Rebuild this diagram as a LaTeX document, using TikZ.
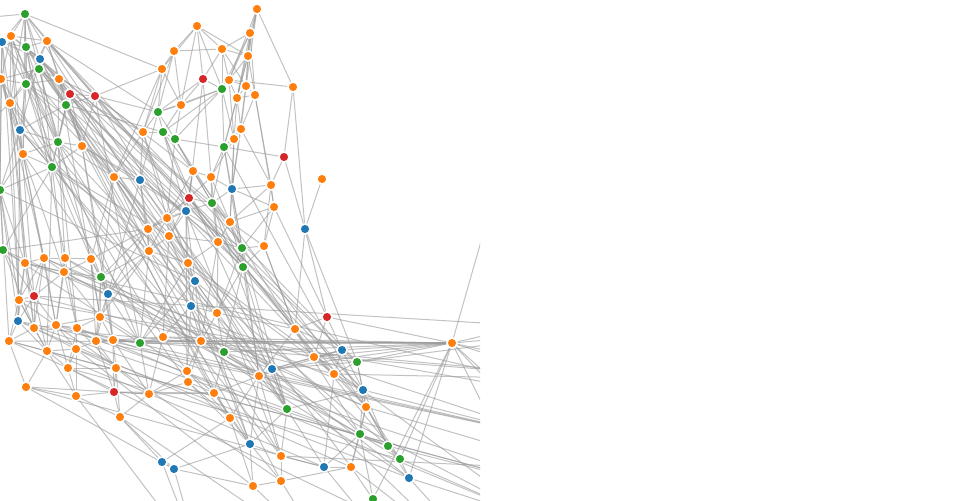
\documentclass[tikz,border=0pt]{standalone}
\usetikzlibrary{backgrounds}
\definecolor{cb}{HTML}{1F77B4}
\definecolor{co}{HTML}{FF7F0E}
\definecolor{cg}{HTML}{2CA02C}
\definecolor{cr}{HTML}{D62728}
\definecolor{linkgray}{HTML}{999999}
\tikzset{
  vtx/.style={circle, draw=white, line width=1.1pt, minimum size=7.5pt, inner sep=0pt},
  link/.style={draw=linkgray, draw opacity=0.6, line width=0.75pt}
}
\begin{document}
\begin{tikzpicture}[x=0.75pt,y=-0.75pt]
\useasboundingbox (0,0) rectangle (960,500);
\begin{scope}
\clip (0,0) rectangle (480,500);

% nodes
\foreach \n/\x/\y/\c in {
 t1/25/14/cg, t2/11/36/co, t3/2/42/cb, t4/26/47/cg, t5/47/41/co, t6/40/59/cb,
 t7/39/69/cg, t8/1/79/co, t9/26/84/cg, t10/59/79/co, t11/70/94/cr, t12/95/96/cr,
 t13/66/105/cg, t14/10/103/co, t15/20/130/cb, t16/23/154/co, t17/58/142/cg,
 t18/82/146/co, t19/52/167/cg, t20/0/190/cg, t21/3/250/cg,
 m1/257/9/co, m2/197/26/co, m3/250/33/co, m4/174/51/co, m5/222/49/co, m6/248/56/co,
 m7/162/69/co, m8/203/79/cr, m9/229/80/co, m10/222/89/cg, m11/246/86/co,
 m12/255/95/co, m13/237/98/co, m14/293/87/co, m15/181/105/co, m16/158/112/cg,
 m17/163/132/cg, m18/175/139/cg, m19/143/132/co, m20/241/129/co, m21/234/139/co,
 m22/224/147/cg, m23/284/157/cr,
 c1/193/171/co, c2/211/177/co, c3/232/189/cb, c4/271/185/co, c5/322/179/co,
 c6/189/198/cr, c7/212/203/cg, c8/186/211/cb, c9/274/207/co, c10/167/218/co,
 c11/230/222/co, c12/305/229/cb, c13/169/236/co, c14/218/242/co, c15/242/248/cg,
 c16/264/246/co, c17/188/263/co, c18/243/267/cg, c19/195/281/cb, c20/191/306/cb,
 c21/217/313/co, c22/114/177/co, c23/140/180/cb, c24/148/229/co, c25/149/251/co,
 l1/25/263/co, l2/44/258/co, l3/65/258/co, l4/91/259/co, l5/64/272/co, l6/101/277/cg,
 l7/108/294/cb, l8/34/296/cr, l9/19/300/co, l10/100/317/co, l11/18/321/cb,
 l12/34/328/co, l13/56/325/co, l14/77/328/co, l15/9/341/co, l16/47/351/co,
 l17/76/349/co, l18/96/341/co, l19/113/340/co, l20/140/343/cg, l21/163/337/co,
 l22/68/368/co, l23/116/368/co, l24/26/387/co, l25/76/396/co, l26/114/392/cr,
 l27/149/394/co, l28/120/417/co,
 b1/201/341/co, b2/224/352/cg, b3/187/371/co, b4/188/382/co, b5/214/393/co,
 b6/259/376/co, b7/272/369/cb, b8/230/418/co, b9/287/409/cg, b10/250/444/cb,
 b11/162/462/cb, b12/174/469/cb, b13/281/456/co, b14/253/486/co, b15/281/481/co,
 b16/295/329/co, b17/327/317/cr, b18/314/357/co,
 r1/452/343/co, r2/342/350/cb, r3/357/362/cg, r4/334/374/co, r5/363/390/cb,
 r6/366/407/co, r7/360/434/cg, r8/388/446/cg, r9/400/459/cg, r10/324/467/cb,
 r11/351/467/co, r12/409/478/cb, r13/373/499/cg}
{
\node[vtx, fill=\c] (\n) at (\x,\y) {};
}

% nodes outside the frame
\foreach \n/\x/\y in {x1/-40/20, x2/-30/140, x3/-50/300, x4/500/175, x5/600/330,
 x6/620/380, x7/560/440, x8/540/520, x9/470/560, x10/400/560, x11/330/560,
 x12/200/560, x13/600/500, x14/700/420, x15/520/600, x16/640/300, x17/580/470}
{
\coordinate (\n) at (\x,\y);
}

\begin{pgfonlayer}{background}
\clip (0,0) rectangle (480,500);
\foreach \a/\nb in {
 t1/{t2,t3,t4,t5,t6,t7,t9,x1,t14,t16,m7,r6,c19},
 t2/{t3,t4,t5,t8,t9,t14,t15,l1,t17,c7,l20},
 t3/{t4,t6,t8,t9,t14,t20,x1,l9,c17},
 t4/{t5,t6,t7,t9,t10,t13,t17,t19,l3,b9,c11},
 t5/{t6,t10,t12,m16,t9,t18,c23,r3,b16},
 t6/{t7,t9,t10,t11,t14,t15,l5,c10,b5,b1},
 t7/{t9,t10,t11,t13,t17,t8,l4,b6,r2},
 t8/{t9,t14,t15,x2,t20,l2,t16,l21},
 t9/{t10,t13,t14,t15,t16,t17,t19,r7,l6,c14},
 t10/{t11,t12,t13,t17,t18,c6,l10,b7},
 t11/{t12,t13,t17,t18,m19,c8,b2,r4},
 t12/{t13,m7,m16,m19,t18,c1,l20,r5,b9},
 t13/{t17,t18,t19,t15,m17,c24,b10,c18},
 t14/{t15,t16,t19,l1,l9,x2,l12,c20},
 t15/{t16,t17,t19,t20,l11,l8,c25,b1},
 t16/{t19,t20,l2,l5,l13,t17,b4},
 t17/{t18,t19,l3,l14,c22,b5,c21},
 t18/{t19,c22,c23,l7,l19,b8,c15},
 t19/{t20,t21,l4,l16,c13,r4,b13},
 t20/{t21,l9,l1,x3,l15,l11,c19},
 t21/{l1,l8,l12,x3,c24,b3,r6},
 m1/{m3,m6,m9,m14,m13,m11},
 m2/{m4,m7,m8,m10,m6,m15,m5},
 m3/{m5,m6,m9,m10,m12,m13,m11},
 m4/{m5,m7,m19,m16,m15},
 m5/{m9,m10,m6,m8,m11},
 m6/{m9,m11,m12,m13,m22},
 m7/{m15,m16,m19,c22},
 m8/{m10,m16,c2,m15,c6},
 m9/{m10,m14,m13,m11,m21},
 m10/{m15,m17,m16,m18,m22,m21},
 m11/{m12,m13,m20,c3},
 m12/{m13,m20,c9,c4},
 m13/{m20,m21,m22},
 m14/{m23,c12},
 m15/{m16,m17,m18},
 m16/{m17,m18,m19,c23},
 m17/{m18,m19,c1,c6,c8,b9},
 m18/{m22,c1,c7,c10,r7},
 m19/{c22,c23,c10,b10},
 m20/{m21,m22,c3,c4},
 m21/{m22,c2,c3,c11},
 m22/{m23,c2,c7,c15,c18,r8},
 m23/{c12,c4},
 c1/{c2,c6,c7,c8,c10,r6},
 c2/{c3,c6,c7,c11,c14},
 c3/{c4,c7,c9,c11,c15},
 c4/{c9,c16,c11},
 c5/{c12},
 c6/{c7,c8,c10,c13,c14,c24,b16,r2,r9},
 c7/{c8,c11,c14,c15,c18,b9},
 c8/{c10,c13,c17,c19,c24,b3,b13},
 c9/{c11,c16,b17,c15},
 c10/{c13,c24,c25,c17,r11},
 c11/{c14,c15,c16,c18},
 c12/{b17,b16,r3},
 c13/{c17,c25,c14,l21,b10},
 c14/{c15,c17,c18,c21,b1},
 c15/{c16,c18,c21,b6,b9},
 c16/{c18,b16},
 c17/{c19,c20,c25,l20,x8},
 c18/{c21,b2,b6,b7,r5},
 c19/{c20,c21,l20,b1,r8},
 c20/{c21,l21,b1,b3,r12},
 c21/{b1,b2,b16},
 c22/{c23,c24,c25,l4,l6,b13},
 c23/{c24,c25,c8,l7,r10},
 c24/{c25,l4,l6,l7,b15},
 c25/{l6,l7,l10,l20,x9},
 l1/{l2,l8,l9,l5,l11,l12,x7,x14},
 l2/{l3,l5,l8,l9,l12,l13,r6,r5},
 l3/{l4,l5,l6,l13,l14,r12},
 l4/{l5,l6,l7,l10,l18},
 l5/{l6,l8,l13,l14,l10,x8,r7},
 l6/{l7,l10,l19,l18,r9},
 l7/{l10,l19,l20,l18},
 l8/{l9,l11,l12,l13,l16,r4,x5},
 l9/{l11,l12,l15,l16,b15,x14},
 l10/{l14,l18,l19,l20,l13},
 l11/{l12,l15,l16,r8,x7},
 l12/{l13,l16,l17,l15,r11,x6},
 l13/{l14,l17,l16,l22,x7,r8},
 l14/{l17,l18,l22,l23,x13,x8},
 l15/{l16,l24,l22,r1,x13},
 l16/{l17,l22,l25,l24,r10,x13},
 l17/{l18,l22,l23,l25,b14,r12},
 l18/{l19,l23,l26,x7,r1},
 l19/{l20,l21,l23,l26,l27,x6,r1},
 l20/{l21,b1,l27,r1},
 l21/{b1,l27,b3,r1},
 l22/{l25,l26,l23,x9,r9},
 l23/{l26,l27,l28},
 l24/{l25,l27,b12,r10},
 l25/{l26,l28,x12},
 l26/{l27,l28,b5},
 l27/{l28,b3,b4,b5},
 l28/{b11,b12,x11},
 b1/{b2,b3,b4,b6,r1},
 b2/{b6,b7,b5,r1},
 b3/{b4,b5,b8},
 b4/{b5,b8,b10},
 b5/{b8,b10,b6},
 b6/{b7,b8,b9,b10,b13,b16,r2},
 b7/{b9,r2,r3,b18,r1},
 b8/{b10,b14,b11},
 b9/{b10,b13,r5},
 b10/{b13,b14,b15,b12},
 b11/{b12,x12},
 b12/{x12,b14},
 b13/{b15,r10,x17},
 b14/{b15,x11},
 b15/{x11,r11},
 b16/{b17,b18,r2,c16},
 b17/{b18,r2,r1},
 b18/{r2,r4,r3,r1},
 r1/{x4,x5,x6,x7,x13,x14,r9,r12,r13,x8,r3,r2,x16},
 r2/{r3,r4,r5},
 r3/{r4,r5,r6,x5},
 r4/{r5,r6,r10,x6},
 r5/{r6,r7,x7,r8},
 r6/{r7,r8,r9,r11,x17},
 r7/{r8,r11,r10,r13},
 r8/{r9,r12,x13},
 r9/{r12,x8},
 r10/{r11,x10},
 r11/{x9,r13},
 r12/{x8,x15},
 r13/{x15}}
{
\foreach \b in \nb
{
\draw[link] (\a) -- (\b);
}
}
\end{pgfonlayer}
\end{scope}
\end{tikzpicture}
\end{document}
